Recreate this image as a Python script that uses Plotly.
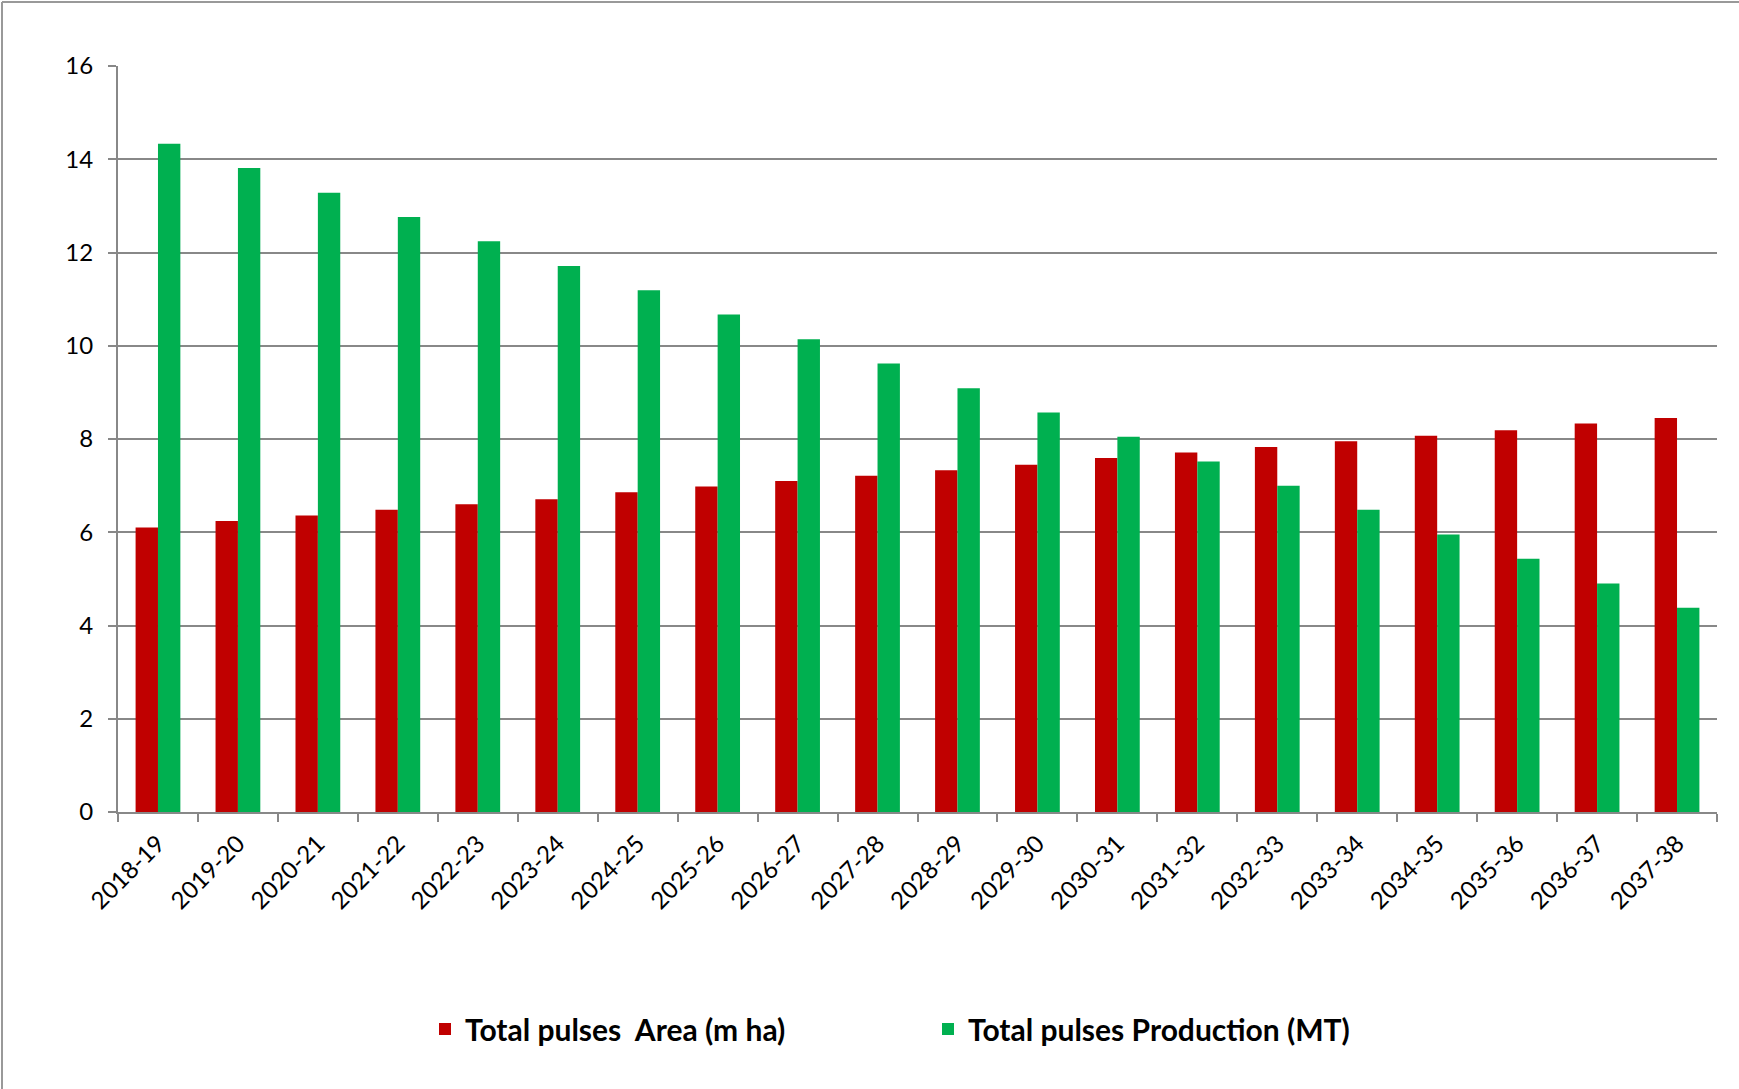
import plotly.graph_objects as go

years = ["2018-19", "2019-20", "2020-21", "2021-22", "2022-23", "2023-24", "2024-25",
         "2025-26", "2026-27", "2027-28", "2028-29", "2029-30", "2030-31", "2031-32",
         "2032-33", "2033-34", "2034-35", "2035-36", "2036-37", "2037-38"]
area = [6.10, 6.24, 6.36, 6.48, 6.60, 6.71, 6.86, 6.98, 7.10, 7.21,
        7.33, 7.45, 7.59, 7.71, 7.83, 7.95, 8.07, 8.19, 8.33, 8.45]
production = [14.33, 13.81, 13.28, 12.76, 12.24, 11.71, 11.19, 10.67, 10.14, 9.62,
              9.09, 8.57, 8.05, 7.52, 7.00, 6.48, 5.95, 5.43, 4.90, 4.38]

W, H = 1739, 1089
L, R, T, B = 118, 22, 66, 277
PW, PH = W - L - R, H - T - B

def px(x):
    return (x - L) / PW

def py(y):
    return (H - B - y) / PH

fig = go.Figure()
fig.add_trace(go.Bar(x=years, y=area, name="Total pulses  Area (m ha)",
                     marker=dict(color="#C00000", line=dict(width=0))))
fig.add_trace(go.Bar(x=years, y=production, name="Total pulses Production (MT)",
                     marker=dict(color="#00B050", line=dict(width=0))))

fig.update_layout(
    width=W, height=H,
    margin=dict(l=L, r=R, t=T, b=B),
    paper_bgcolor="white", plot_bgcolor="white",
    barmode="group", bargap=0.44, bargroupgap=0,
    font=dict(family="Lato", color="black"),
    legend=dict(orientation="h", x=px(425), xanchor="left", y=py(1029), yanchor="middle",
                font=dict(family="Lato", size=30, color="black", weight="bold"),
                entrywidth=458, entrywidthmode="pixels"),
    xaxis=dict(tickangle=-45, tickfont=dict(size=24), showline=True, linecolor="#888888",
               linewidth=2, ticks="outside", ticklen=8, tickcolor="#888888", tickwidth=2,
               tickson="boundaries", showgrid=False, zeroline=False, ticklabelstandoff=6),
    yaxis=dict(range=[0, 16], dtick=2, tickfont=dict(size=24), showline=True,
               linecolor="#888888", linewidth=2, ticks="outside", ticklen=8,
               tickcolor="#888888", tickwidth=2, showgrid=True, gridcolor="#888888",
               gridwidth=2, zeroline=False, ticklabelstandoff=10),
    shapes=[
        dict(type="line", xref="paper", yref="paper", x0=px(2), x1=px(W), y0=py(2), y1=py(2),
             line=dict(color="#999999", width=2)),
        dict(type="line", xref="paper", yref="paper", x0=px(2), x1=px(2), y0=py(2), y1=py(H),
             line=dict(color="#999999", width=2)),
    ],
)

fig.write_html("out.html", config={"displayModeBar": False},
               post_script="document.body.style.margin='0';")
